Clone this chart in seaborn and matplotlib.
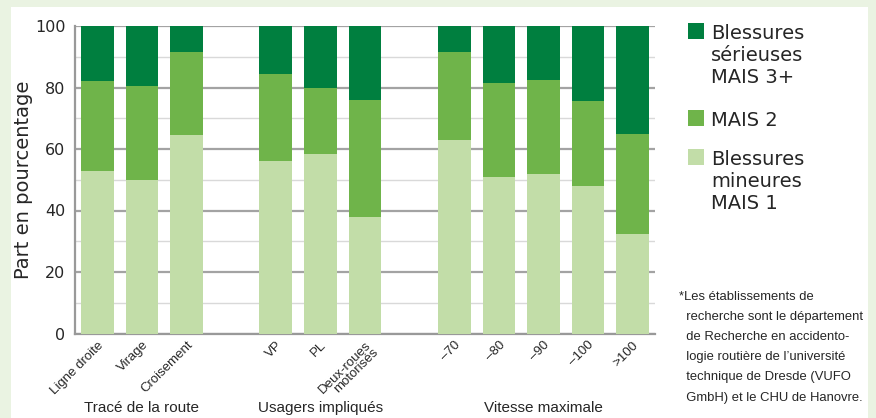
import matplotlib
matplotlib.use("Agg")
import matplotlib.pyplot as plt
import matplotlib.patches as mpatches
import pandas as pd
import seaborn as sns
from matplotlib.ticker import MultipleLocator

# --- data ---
groups = ["Tracé de la route", "Usagers impliqués", "Vitesse maximale"]
categories = [
    ["Ligne droite", "Virage", "Croisement"],
    ["VP", "PL", "Deux-roues\nmotorisés"],
    ["–70", "–80", "–90", "–100", ">100"],
]
mineures = [53, 50, 64.5, 56, 58.5, 38, 63, 51, 52, 48, 32.5]
mais2 = [29, 30.5, 27, 28.5, 21.5, 38, 28.5, 30.5, 30.5, 27.5, 32.5]
serieuses = [18, 19.5, 8.5, 15.5, 20, 24, 8.5, 18.5, 17.5, 24.5, 35]

levels = ["Blessures\nsérieuses\nMAIS 3+", "MAIS 2", "Blessures\nmineures\nMAIS 1"]
colors = ["#007f3f", "#6fb44a", "#c2dda8"]

footnote = ("*Les établissements de\n"
            "  recherche sont le département\n"
            "  de Recherche en accidento-\n"
            "  logie routière de l’université\n"
            "  technique de Dresde (VUFO\n"
            "  GmbH) et le CHU de Hanovre.")

flat = [c for g in categories for c in g]
df = pd.DataFrame({"cat": flat, "mineures": mineures, "mais2": mais2, "serieuses": serieuses})
df["top_mid"] = df["mineures"] + df["mais2"]
df["total"] = df["top_mid"] + df["serieuses"]

# category order with empty slots between the groups
order = []
for i, g in enumerate(categories):
    order += g
    if i < len(categories) - 1:
        order.append(" " * (i + 1))

sns.set_style("white")
plt.rcParams["font.family"] = ["Liberation Sans", "DejaVu Sans"]

W, H = 876, 418
fig = plt.figure(figsize=(W / 100, H / 100), dpi=100)
fig.patch.set_facecolor("#eaf3e2")
fig.add_artist(mpatches.Rectangle((11 / W, 0), 857 / W, 1 - 7 / H,
                                  transform=fig.transFigure, facecolor="white",
                                  edgecolor="none", zorder=0))

ax = fig.add_axes([75 / W, 1 - 333.5 / H, 580 / W, 307.5 / H])
ax.set_facecolor("none")

for col, c in zip(["total", "top_mid", "mineures"], colors):
    sns.barplot(data=df, x="cat", y=col, order=order, color=c, width=0.73,
                saturation=1, errorbar=None, linewidth=0, ax=ax, zorder=3)

ax.set_xlim(-0.5, len(order) - 0.5)
ax.set_ylim(0, 100)
ax.yaxis.set_major_locator(MultipleLocator(20))
ax.yaxis.set_minor_locator(MultipleLocator(10))
ax.grid(which="major", axis="y", color="#a3a3a3", lw=1.6, zorder=0)
ax.grid(which="minor", axis="y", color="#d9d9d9", lw=1.0, zorder=0)
ax.yaxis.get_gridlines()[-1].set_color("#d9d9d9")
for s in ["top", "right"]:
    ax.spines[s].set_visible(False)
for s in ["left", "bottom"]:
    ax.spines[s].set_color("#999999")
    ax.spines[s].set_linewidth(1.6)
ax.tick_params(axis="both", length=0)
ax.tick_params(axis="y", labelsize=11.5, pad=7)
for t in ax.get_yticklabels():
    t.set_family("DejaVu Sans")

ax.set_xticks(range(len(order)))
ax.set_xticklabels(order, rotation=45, ha="right", rotation_mode="anchor",
                   fontsize=9.5, linespacing=0.85)
ax.tick_params(axis="x", pad=4)
ax.set_xlabel("")
ax.set_ylabel("Part en pourcentage", fontsize=14, family="DejaVu Sans", labelpad=1)

# group labels at the bottom of the figure, centred under each group
pos = 0
for g, cats in zip(groups, categories):
    center = pos + (len(cats) - 1) / 2
    xf = fig.transFigure.inverted().transform(ax.transData.transform((center, 0)))[0]
    fig.text(xf, 3 / H, g, ha="center", va="bottom", fontsize=11)
    pos += len(cats) + 1

# legend: squares aligned with the first line of each label
legend_tops = [23, 110, 149]
for c, l, top in zip(colors, levels, legend_tops):
    fig.add_artist(mpatches.Rectangle((688 / W, 1 - (top + 15.5) / H), 15.5 / W, 15.5 / H,
                                      transform=fig.transFigure, facecolor=c,
                                      edgecolor="none"))
    fig.text(711 / W, 1 - (top + 1) / H, l, ha="left", va="top", fontsize=14,
             family="DejaVu Sans", linespacing=1.2)

fig.text(679 / W, 1 - 291 / H, footnote, ha="left", va="top",
         fontsize=9.4, linespacing=1.9)

fig.savefig("out.png", dpi=100)
